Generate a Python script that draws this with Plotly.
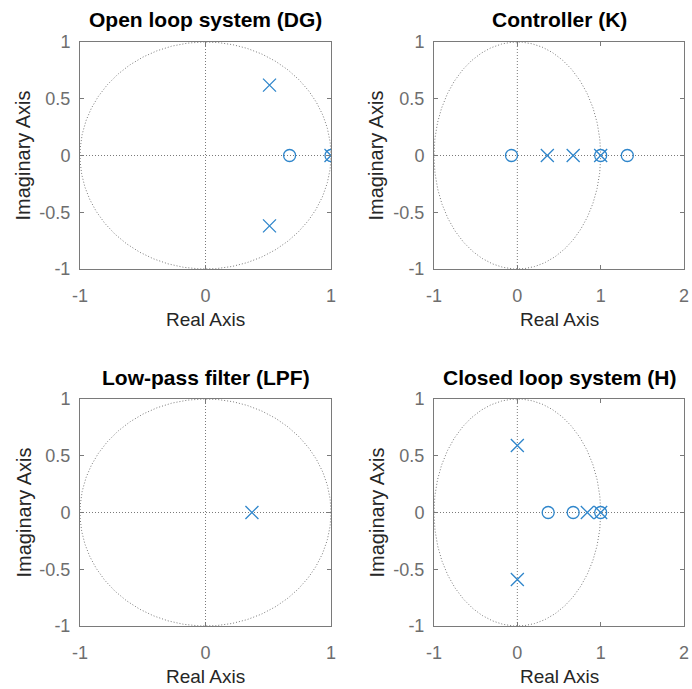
import numpy as np
import plotly.graph_objects as go

# ---- data ----
titles = ["Open loop system (DG)", "Controller (K)", "Low-pass filter (LPF)", "Closed loop system (H)"]

dg_poles_re = [0.51, 0.51, 1.0]
dg_poles_im = [0.62, -0.62, 0.0]
dg_zeros_re = [0.67, 1.0]
dg_zeros_im = [0.0, 0.0]

k_poles_re = [0.36, 0.67, 1.0]
k_poles_im = [0.0, 0.0, 0.0]
k_zeros_re = [-0.07, 1.0, 1.32]
k_zeros_im = [0.0, 0.0, 0.0]

lpf_poles_re = [0.37]
lpf_poles_im = [0.0]
lpf_zeros_re = []
lpf_zeros_im = []

h_poles_re = [0.0, 0.0, 0.84, 1.0]
h_poles_im = [0.59, -0.59, 0.0, 0.0]
h_zeros_re = [0.37, 0.67, 1.0]
h_zeros_im = [0.0, 0.0, 0.0]

x_ranges = [[-1, 1], [-1, 2], [-1, 1], [-1, 2]]
x_ticks = [[-1, 0, 1], [-1, 0, 1, 2], [-1, 0, 1], [-1, 0, 1, 2]]
y_ticks = [-1, -0.5, 0, 0.5, 1]
y_ticktext = ["-1", "-0.5", "0", "0.5", "1"]

systems = [
    (dg_poles_re, dg_poles_im, dg_zeros_re, dg_zeros_im),
    (k_poles_re, k_poles_im, k_zeros_re, k_zeros_im),
    (lpf_poles_re, lpf_poles_im, lpf_zeros_re, lpf_zeros_im),
    (h_poles_re, h_poles_im, h_zeros_re, h_zeros_im),
]

# ---- layout geometry (page pixels) ----
W, H = 692, 689
px_x = [(80, 331), (434, 684), (80, 331), (434, 684)]
px_y = [(42, 269), (42, 269), (399, 626), (399, 626)]

MARK = "#2f86cb"
GRIDC = "#7a7a7a"
AXC = "#7a7a7a"
DOT = "1px,2px"
FONT = "Liberation Sans, Arial, Helvetica, sans-serif"


def fx(p):
    return p / W


def fy(p):
    return 1 - p / H


fig = go.Figure()
theta = np.linspace(0, 2 * np.pi, 600)

for i, (pr, pi_, zr, zi) in enumerate(systems):
    n = i + 1
    xa = "x" if n == 1 else f"x{n}"
    ya = "y" if n == 1 else f"y{n}"
    # unit circle
    fig.add_trace(go.Scatter(x=np.cos(theta), y=np.sin(theta), mode="lines",
                             line=dict(color=GRIDC, width=1, dash=DOT),
                             xaxis=xa, yaxis=ya, hoverinfo="skip", showlegend=False))
    # axis lines through origin
    fig.add_shape(type="line", xref=xa, yref=f"{ya} domain", x0=0, x1=0, y0=0, y1=1,
                  line=dict(color=GRIDC, width=1, dash=DOT), layer="below")
    fig.add_shape(type="line", xref=f"{xa} domain", yref=ya, x0=0, x1=1, y0=0, y1=0,
                  line=dict(color=GRIDC, width=1, dash=DOT), layer="below")
    if zr:
        fig.add_trace(go.Scatter(x=zr, y=zi, mode="markers",
                                 marker=dict(symbol="circle-open", size=12, color=MARK,
                                             line=dict(width=1.3, color=MARK)),
                                 xaxis=xa, yaxis=ya, showlegend=False))
    fig.add_trace(go.Scatter(x=pr, y=pi_, mode="markers",
                             marker=dict(symbol="x-thin-open", size=13, color=MARK,
                                         line=dict(width=1.3, color=MARK)),
                             xaxis=xa, yaxis=ya, showlegend=False))

    x0, x1 = px_x[i]
    y0, y1 = px_y[i]
    common = dict(showline=True, linecolor=AXC, linewidth=1, mirror="ticks",
                  ticks="inside", ticklen=4, tickcolor=AXC, showgrid=False, zeroline=False,
                  automargin=False,
                  tickfont=dict(family=FONT, size=18, color="#6e6e6e"))
    fig.layout[f"xaxis{'' if n == 1 else n}"] = dict(
        domain=[fx(x0), fx(x1)], range=x_ranges[i], tickvals=x_ticks[i],
        ticktext=[str(v) for v in x_ticks[i]], anchor=ya, ticklabelstandoff=10, **common)
    fig.layout[f"yaxis{'' if n == 1 else n}"] = dict(
        domain=[fy(y1), fy(y0)], range=[-1, 1], tickvals=y_ticks,
        ticktext=y_ticktext, anchor=xa, ticklabelstandoff=5, **common)

    cx = fx((x0 + x1) / 2)
    fig.add_annotation(text=f"<b>{titles[i]}</b>", x=cx, y=fy(y0 - 22), xref="paper", yref="paper",
                       xanchor="center", yanchor="middle",
                       showarrow=False, font=dict(family=FONT, size=21, color="#000000"))
    fig.add_annotation(text="Real Axis", x=cx, y=fy(y1 + 50), xref="paper", yref="paper",
                       xanchor="center", yanchor="middle",
                       showarrow=False, font=dict(family=FONT, size=19, color="#262626"))
    lx = 23 if i % 2 == 0 else 376
    fig.add_annotation(text="Imaginary Axis", x=fx(lx), y=fy((y0 + y1) / 2), xref="paper", yref="paper",
                       xanchor="center", yanchor="middle",
                       showarrow=False, textangle=-90, font=dict(family=FONT, size=20, color="#262626"))

fig.update_layout(width=W, height=H, margin=dict(l=0, r=0, t=0, b=0, autoexpand=False),
                  paper_bgcolor="white", plot_bgcolor="white", showlegend=False)

fig.write_html("out.html", config={"displayModeBar": False},
               post_script="document.body.style.margin='0';document.body.style.overflow='hidden';")
